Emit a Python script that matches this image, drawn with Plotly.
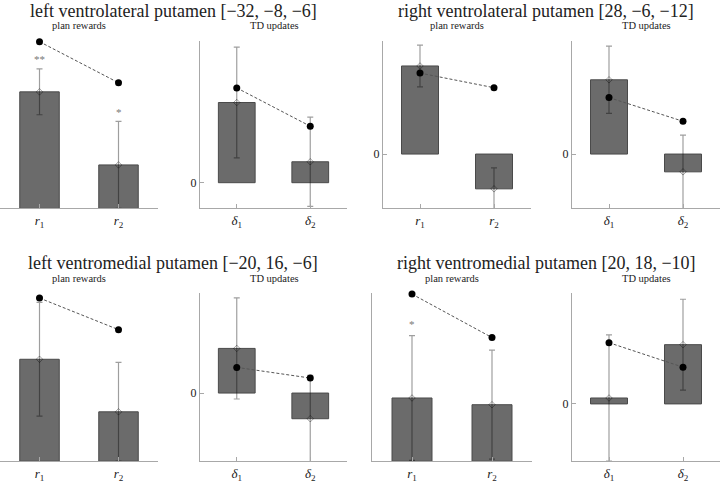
import plotly.graph_objects as go

# ---------------- data ----------------
titles = ["left ventrolateral putamen [\u221232, \u22128, \u22126]",
          "right ventrolateral putamen [28, \u22126, \u221212]",
          "left ventromedial putamen [\u221220, 16, \u22126]",
          "right ventromedial putamen [20, 18, \u221210]"]
subtitles = ["plan rewards", "TD updates"]
reward_labels = ["<i>r</i><sub>1</sub>", "<i>r</i><sub>2</sub>"]
td_labels = ["<i>\u03b4</i><sub>1</sub>", "<i>\u03b4</i><sub>2</sub>"]

# panel order: LVL-plan, LVL-TD, RVL-plan, RVL-TD, LVM-plan, LVM-TD, RVM-plan, RVM-TD
bar_means = [[2.95, 1.10], [2.03, 0.53], [2.23, -0.88], [1.88, -0.45],
             [2.58, 1.25], [1.13, -0.65], [1.60, 1.43], [0.15, 1.50]]
bar_errs = [[0.58, 1.10], [1.40, 1.13], [0.53, 0.53], [0.85, 0.93],
            [1.44, 1.25], [1.28, 1.10], [1.58, 1.38], [1.60, 1.15]]
model_vals = [[4.22, 3.18], [2.40, 1.43], [2.05, 1.68], [1.43, 0.83],
              [4.13, 3.33], [0.65, 0.38], [4.23, 3.13], [1.55, 0.93]]
stars = [["**", "*"], ["", ""], ["**", ""], ["*", ""],
         ["*", ""], ["", ""], ["*", ""], ["", ""]]
star_y = [[3.78, 2.45], [None, None], [2.90, None], [2.90, None],
          [4.28, None], [None, None], [3.48, None], [None, None]]
y_ranges = [[0, 4.225], [-0.65, 3.575], [-1.375, 2.85], [-1.375, 2.85],
            [0, 4.25], [-1.725, 2.525], [0, 4.25], [-1.45, 2.8]]
show_zero = [False, True, True, True, False, True, False, True]

# ---------------- layout geometry (pixels) ----------------
W, H = 720, 483
x_px = [(0, 158), (200, 347), (383, 531), (572, 720),
        (0, 158), (200, 347), (372, 532), (572, 720)]
y_px = [(42, 211)] * 4 + [(297, 467)] * 4

FONT = "Liberation Serif, Times New Roman, serif"
AXCOL = "#a8a8a8"

fig = go.Figure()
layout = dict(width=W, height=H, margin=dict(l=0, r=0, t=0, b=0),
              paper_bgcolor="white", plot_bgcolor="white", showlegend=False,
              font=dict(family=FONT, color="#222"))
annotations = []

for i in range(8):
    n = i + 1
    xa = "x" if n == 1 else f"x{n}"
    ya = "y" if n == 1 else f"y{n}"
    labels = reward_labels if i % 2 == 0 else td_labels
    xs = [0, 1]
    fig.add_trace(go.Bar(
        x=xs, y=bar_means[i], width=0.5, xaxis=xa, yaxis=ya,
        marker=dict(color="#6b6b6b", line=dict(color="#4a4a4a", width=1)),
        error_y=dict(type="data", array=bar_errs[i], color="rgba(0,0,0,0.38)",
                     thickness=1.2, width=3)))
    fig.add_trace(go.Scatter(
        x=xs, y=bar_means[i], mode="markers", xaxis=xa, yaxis=ya,
        marker=dict(symbol="diamond-open", size=5, color="rgba(0,0,0,0.35)",
                    line=dict(width=1))))
    fig.add_trace(go.Scatter(
        x=xs, y=model_vals[i], mode="lines+markers", xaxis=xa, yaxis=ya,
        cliponaxis=False,
        line=dict(color="#555", width=1, dash="3px,2px"),
        marker=dict(color="black", size=7)))
    for k in range(2):
        if stars[i][k]:
            annotations.append(dict(x=k, y=star_y[i][k], xref=xa, yref=ya,
                                    text=stars[i][k], showarrow=False,
                                    font=dict(size=11, color="#777", family=FONT)))
    x0, x1 = x_px[i]
    y0, y1 = y_px[i]
    key = "" if n == 1 else str(n)
    layout["xaxis" + key] = dict(
        domain=[x0 / W, x1 / W], range=[-0.5, 1.5], anchor=ya,
        tickvals=xs, ticktext=labels, ticks="inside", ticklen=4, tickcolor=AXCOL,
        showline=True, linecolor=AXCOL, linewidth=1, showgrid=False,
        zeroline=False, tickfont=dict(size=13, family=FONT, color="#222"))
    layout["yaxis" + key] = dict(
        domain=[1 - y1 / H, 1 - y0 / H], range=y_ranges[i], anchor=xa,
        tickvals=[0] if show_zero[i] else [], ticktext=["0"],
        ticks="inside", ticklen=4, tickcolor=AXCOL,
        showline=True, linecolor=AXCOL, linewidth=1, showgrid=False,
        zeroline=False, tickfont=dict(size=12, family=FONT, color="#222"))

# titles and subtitles
title_pos = [(173, 11), (546, 11), (173, 266), (546, 266)]
for t, (tx, ty) in zip(titles, title_pos):
    annotations.append(dict(x=tx / W, y=1 - ty / H, xref="paper", yref="paper",
                            text=t, showarrow=False, xanchor="center",
                            yanchor="middle",
                            font=dict(size=18, family=FONT, color="#222")))
sub_pos = [(79, 26), (274, 26), (457, 26), (646, 26),
           (79, 282), (274, 282), (452, 282), (646, 282)]
for j, (sx, sy) in enumerate(sub_pos):
    annotations.append(dict(x=sx / W, y=1 - sy / H, xref="paper", yref="paper",
                            text=subtitles[j % 2], showarrow=False,
                            xanchor="center", yanchor="middle",
                            font=dict(size=10.5, family=FONT, color="#222")))

layout["annotations"] = annotations
fig.update_layout(**layout)
fig.write_html("out.html",
               config={"displayModeBar": False},
               post_script="document.body.style.margin='0';"
                           "document.body.style.overflow='hidden';")
